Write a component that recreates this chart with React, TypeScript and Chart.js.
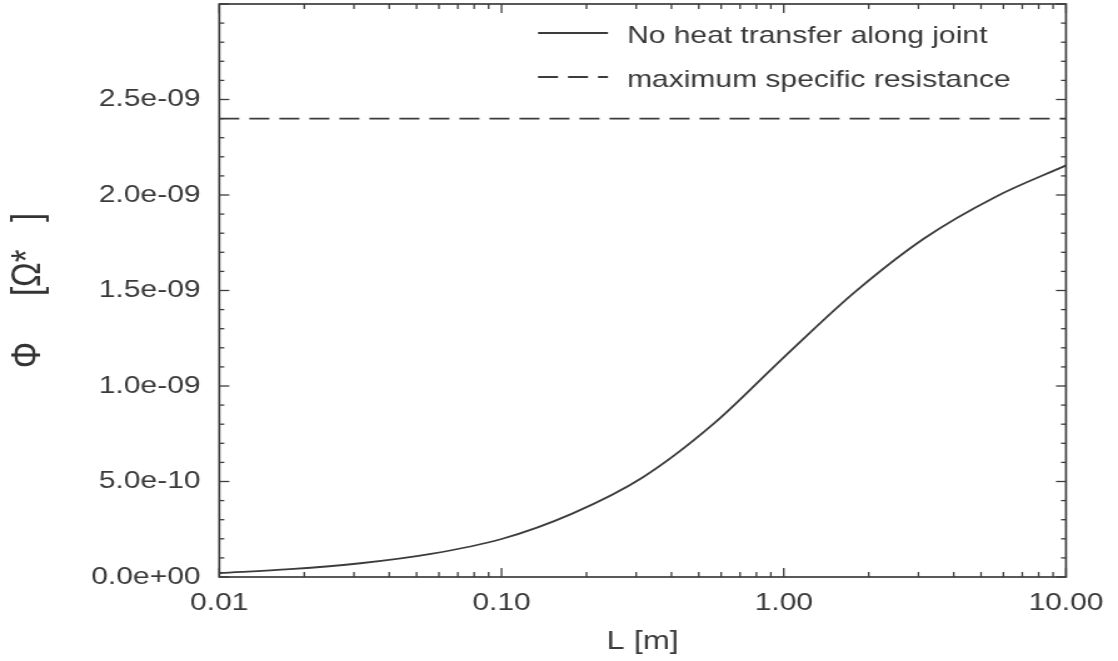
import React, { useEffect, useRef } from 'react';
import { Chart, registerables } from 'chart.js';

Chart.register(...registerables);

// ---- data ----
const lengths = [0.01, 0.0178, 0.0316, 0.0562, 0.1, 0.178, 0.316, 0.562, 1, 1.78, 3.16, 5.62, 10];
const phiNoHeatTransfer = [
  0.021e-9, 0.041e-9, 0.072e-9, 0.121e-9, 0.199e-9, 0.332e-9, 0.521e-9,
  0.80e-9, 1.15e-9, 1.49e-9, 1.775e-9, 1.99e-9, 2.155e-9,
];
const maxResistanceL = [0.01, 10];
const maxResistanceValues = [2.4e-9, 2.4e-9];
const seriesLabels = ['No heat transfer along joint', 'maximum specific resistance'];

const xTickValues = [0.01, 0.1, 1, 10];
const xTickLabels = ['0.01', '0.10', '1.00', '10.00'];
const yTickValues = [0, 5e-10, 1e-9, 1.5e-9, 2e-9, 2.5e-9];
const yTickLabels = ['0.0e+00', '5.0e-10', '1.0e-09', '1.5e-09', '2.0e-09', '2.5e-09'];
const xTitle = 'L [m]';
const yTitle = 'Φ     [Ω*   ]';

// ---- layout (canvas buffer is horizontally stretched by CSS, like the scan) ----
const CSS_W = 1118;
const CSS_H = 661;
const BUF_W = 894;
const SX = CSS_W / BUF_W;
const INK = '#3c3c3c';
const TEXT = '#3a3a3a';
const FONT = '"Liberation Sans", Arial, sans-serif';

const frameTicks = {
  id: 'frameTicks',
  afterDatasetsDraw(chart: any) {
    const { ctx, chartArea, scales } = chart;
    const { left, right, top, bottom } = chartArea;
    const x = scales.x;
    const y = scales.y;
    ctx.save();
    ctx.strokeStyle = INK;
    ctx.lineWidth = 1.7;
    ctx.strokeRect(left, top, right - left, bottom - top);
    ctx.lineWidth = 1.3;
    const seg = (x1: number, y1: number, x2: number, y2: number) => {
      ctx.beginPath();
      ctx.moveTo(x1, y1);
      ctx.lineTo(x2, y2);
      ctx.stroke();
    };
    const yMax = y.max;
    for (let i = 0; i * 1e-10 <= yMax + 1e-13; i++) {
      const py = y.getPixelForValue(i * 1e-10);
      const len = (i % 5 === 0 ? 10 : 5) / SX;
      seg(left, py, left + len, py);
      seg(right, py, right - len, py);
    }
    for (let d = -2; d <= 1; d++) {
      for (let k = 1; k <= 9; k++) {
        const v = k * Math.pow(10, d);
        if (v < x.min - 1e-12 || v > x.max + 1e-9) continue;
        const px = x.getPixelForValue(v);
        const len = k === 1 ? 9 : 5;
        seg(px, bottom, px, bottom - len);
        seg(px, top, px, top + len);
      }
    }
    ctx.restore();
  },
  afterDraw(chart: any) {
    const { ctx } = chart;
    ctx.save();
    const lineX0 = 538 / SX;
    const lineX1 = 608 / SX;
    const textX = 627 / SX;
    chart.data.datasets.forEach((ds: any, i: number) => {
      const rowY = 33 + i * 44;
      ctx.strokeStyle = ds.borderColor;
      ctx.lineWidth = ds.borderWidth;
      ctx.setLineDash(ds.borderDash || []);
      ctx.beginPath();
      ctx.moveTo(lineX0, rowY);
      ctx.lineTo(lineX1, rowY);
      ctx.stroke();
      ctx.setLineDash([]);
      ctx.fillStyle = TEXT;
      ctx.font = '24px ' + FONT;
      ctx.textAlign = 'left';
      ctx.textBaseline = 'alphabetic';
      ctx.fillText(ds.label, textX, rowY + 10);
    });
    ctx.restore();
  },
};

export default function App() {
  const ref = useRef<HTMLCanvasElement>(null);

  useEffect(() => {
    if (!ref.current) return;
    const chart = new Chart(ref.current, {
      type: 'line',
      data: {
        datasets: [
          {
            label: seriesLabels[0],
            data: lengths.map((l, i) => ({ x: l, y: phiNoHeatTransfer[i] })),
            borderColor: INK,
            borderWidth: 1.8,
            pointRadius: 0,
            cubicInterpolationMode: 'monotone',
            fill: false,
          },
          {
            label: seriesLabels[1],
            data: maxResistanceL.map((l, i) => ({ x: l, y: maxResistanceValues[i] })),
            borderColor: INK,
            borderWidth: 1.8,
            borderDash: [16, 8],
            pointRadius: 0,
            fill: false,
          },
        ],
      },
      options: {
        animation: false,
        responsive: false,
        devicePixelRatio: 1,
        layout: { padding: { top: 4, right: BUF_W - 1066 / SX, bottom: 0, left: 0 } },
        plugins: { legend: { display: false }, tooltip: { enabled: false } },
        scales: {
          x: {
            type: 'logarithmic',
            min: 0.01,
            max: 10,
            grid: { display: false, drawTicks: false },
            border: { display: false },
            afterBuildTicks: (scale: any) => {
              scale.ticks = xTickValues.map((v) => ({ value: v }));
            },
            afterFit: (scale: any) => {
              scale.height = 84;
              scale.paddingLeft = 0;
              scale.paddingRight = 0;
            },
            ticks: {
              autoSkip: false,
              maxRotation: 0,
              padding: 12,
              color: TEXT,
              font: { family: FONT, size: 24 },
              callback: (v: any) => {
                const i = xTickValues.findIndex((t) => Math.abs(t - Number(v)) < 1e-9);
                return i >= 0 ? xTickLabels[i] : '';
              },
            },
            title: {
              display: true,
              text: xTitle,
              color: TEXT,
              padding: { top: 0, bottom: 4 },
              font: { family: FONT, size: 26 },
            },
          },
          y: {
            type: 'linear',
            min: 0,
            max: 3e-9,
            grid: { display: false, drawTicks: false },
            border: { display: false },
            afterBuildTicks: (scale: any) => {
              scale.ticks = yTickValues.map((v) => ({ value: v }));
            },
            afterFit: (scale: any) => {
              scale.width = 219.3 / SX;
              scale.paddingTop = 0;
              scale.paddingBottom = 0;
            },
            ticks: {
              autoSkip: false,
              padding: 15,
              color: TEXT,
              font: { family: FONT, size: 24 },
              callback: (v: any) => {
                const i = yTickValues.findIndex((t) => Math.abs(t - Number(v)) < 1e-13);
                return i >= 0 ? yTickLabels[i] : '';
              },
            },
            title: {
              display: true,
              text: yTitle,
              color: '#333333',
              padding: { top: 3, bottom: 0 },
              font: { family: FONT, size: 33 },
            },
          },
        },
      },
      plugins: [frameTicks],
    } as any);
    return () => chart.destroy();
  }, []);

  return (
    <div style={{ position: 'fixed', left: 0, top: 0, width: CSS_W, height: CSS_H, background: '#fff' }}>
      <canvas
        ref={ref}
        width={BUF_W}
        height={CSS_H}
        style={{ width: CSS_W + 'px', height: CSS_H + 'px', display: 'block' }}
      />
    </div>
  );
}
